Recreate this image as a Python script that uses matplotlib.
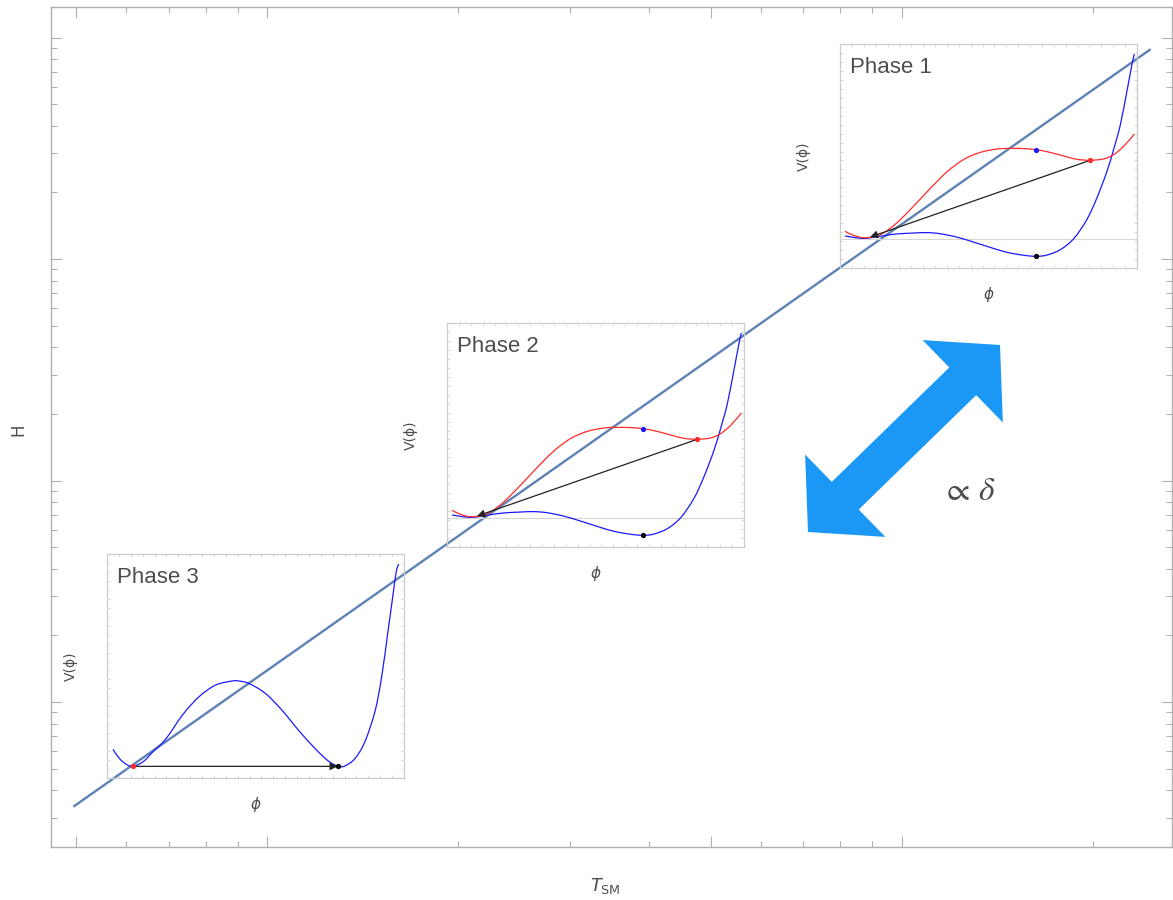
import numpy as np
import matplotlib.pyplot as plt
import matplotlib.patches as mpatches
from matplotlib.path import Path
from matplotlib.ticker import LogLocator, NullFormatter

# main H(T_SM) line, log-log
T_line = [4.95, 247.0]
H_line = [0.337, 887.0]

x_major = [5, 10, 50, 100]
x_minor = [6, 7, 8, 9, 20, 30, 40, 60, 70, 80, 90, 200]

# inset potentials (phases 1 and 2 look the same), phi and V normalised to the inset box
phi_blue_12 = [0.017, 0.045, 0.079, 0.112, 0.146, 0.191, 0.247, 0.292, 0.337, 0.393, 0.449, 0.506,
               0.562, 0.618, 0.661, 0.697, 0.742, 0.787, 0.831, 0.865, 0.899, 0.921, 0.944, 0.966,
               0.983, 0.991]
V_blue_12 = [0.143, 0.137, 0.132, 0.137, 0.144, 0.152, 0.156, 0.158, 0.153, 0.138, 0.116, 0.092,
             0.070, 0.057, 0.052, 0.058, 0.082, 0.131, 0.216, 0.313, 0.432, 0.528, 0.640, 0.789,
             0.908, 0.955]
phi_red_12 = [0.017, 0.045, 0.079, 0.112, 0.146, 0.191, 0.247, 0.303, 0.360, 0.416, 0.472, 0.528,
              0.573, 0.618, 0.661, 0.708, 0.753, 0.798, 0.843, 0.888, 0.921, 0.955, 0.991]
V_red_12 = [0.164, 0.146, 0.135, 0.140, 0.156, 0.201, 0.275, 0.354, 0.429, 0.484, 0.516, 0.531,
            0.534, 0.533, 0.528, 0.516, 0.500, 0.485, 0.481, 0.487, 0.506, 0.543, 0.598]
V_zero_12 = 0.131
tunnel_12 = [(0.843, 0.481), (0.101, 0.138)]   # red dot -> arrow end
blue_dot_12 = (0.661, 0.528)
black_dot_12 = (0.661, 0.052)

phi_blue_3 = [0.020, 0.042, 0.065, 0.087, 0.121, 0.154, 0.199, 0.254, 0.310, 0.366, 0.422, 0.444,
              0.478, 0.533, 0.589, 0.645, 0.701, 0.746, 0.779, 0.801, 0.835, 0.868, 0.902, 0.924,
              0.946, 0.963, 0.974, 0.982]
V_blue_3 = [0.128, 0.087, 0.061, 0.052, 0.072, 0.116, 0.176, 0.281, 0.363, 0.415, 0.433, 0.433,
            0.422, 0.378, 0.303, 0.213, 0.131, 0.075, 0.052, 0.054, 0.087, 0.161, 0.296, 0.445,
            0.654, 0.818, 0.922, 0.955]
tunnel_3 = [(0.089, 0.052), (0.777, 0.052)]

line_col = '#5e81b5'
frame_col = '#b0b0b0'
text_col = '#4d4d4d'
arrow_col = '#1b98f5'

fig = plt.figure(figsize=(11.73, 9), dpi=100)
ax = fig.add_axes([0.0435, 0.0592, 0.9554, 0.9327])
ax.set_xscale('log')
ax.set_yscale('log')
ax.set_xlim(4.565, 266.6)
ax.set_ylim(0.2223, 1371)
ax.plot(T_line, H_line, color=line_col, lw=1.7, solid_capstyle='butt', zorder=1)

ax.set_xticks(x_major)
ax.set_xticks(x_minor, minor=True)
ax.yaxis.set_major_locator(LogLocator(base=10))
ax.yaxis.set_minor_locator(LogLocator(base=10, subs=np.arange(2, 10)))
for a in (ax.xaxis, ax.yaxis):
    a.set_major_formatter(NullFormatter())
    a.set_minor_formatter(NullFormatter())
ax.tick_params(which='both', direction='in', top=True, right=True, color=frame_col, width=0.8)
ax.tick_params(which='major', length=8)
ax.tick_params(which='minor', length=4)
for s in ax.spines.values():
    s.set_color(frame_col)
    s.set_linewidth(1.0)

fig.text(0.0154, 1 - 430 / 900, 'H', rotation=90, ha='center', va='center',
         fontsize=12, color=text_col)
fig.text(605 / 1173, 1 - 886 / 900, r'$T_{\mathrm{SM}}$', ha='center', va='center',
         fontsize=13, color=text_col)


def smooth_curve(px, py, color):
    # Catmull-Rom through the read points, drawn as cubic Bezier segments
    p = np.column_stack([px, py])
    verts = [p[0]]
    codes = [Path.MOVETO]
    for i in range(len(p) - 1):
        a = p[i - 1] if i > 0 else p[i]
        d = p[i + 2] if i + 2 < len(p) else p[i + 1]
        verts += [p[i] + (p[i + 1] - a) / 6, p[i + 1] - (d - p[i]) / 6, p[i + 1]]
        codes += [Path.CURVE4] * 3
    return mpatches.PathPatch(Path(verts, codes), fc='none', ec=color, lw=0.9, zorder=2)


def draw_inset(rect, title, curves, tunnel, dots, zero=None):
    ia = fig.add_axes(rect)
    ia.set_facecolor('none')
    ia.set_xlim(0, 1)
    ia.set_ylim(0, 1)
    if zero is not None:
        ia.axhline(zero, color='#d6d6d6', lw=0.8, zorder=1)
    for px, py, c in curves:
        ia.add_patch(smooth_curve(px, py, c))
    (x0, y0), (x1, y1) = tunnel
    ia.annotate('', xy=(x1, y1), xytext=(x0, y0),
                arrowprops=dict(arrowstyle='-|>,head_length=0.45,head_width=0.22',
                                color='#222222', lw=0.9, shrinkA=0, shrinkB=0), zorder=3)
    for (dx, dy), c in dots:
        ia.plot(dx, dy, 'o', color=c, ms=3.8, mec='none', zorder=4)
    ticks = np.linspace(0, 1, 26)
    ia.set_xticks(ticks)
    ia.set_yticks(ticks)
    ia.set_xticklabels([])
    ia.set_yticklabels([])
    ia.tick_params(direction='in', top=True, right=True, length=2, width=0.5, color='#c8c8c8')
    for s in ia.spines.values():
        s.set_color('#cccccc')
        s.set_linewidth(0.9)
    ia.text(0.034, 0.893, title, transform=ia.transAxes, fontsize=16, color=text_col,
            family='Liberation Sans', ha='left', va='center')
    ia.text(-0.12, 0.5, 'V(\u03d5)', transform=ia.transAxes, rotation=90, fontsize=10,
            color=text_col, ha='center', va='center')
    ia.text(0.5, -0.12, r'$\phi$', transform=ia.transAxes, fontsize=11,
            color=text_col, ha='center', va='center')
    return ia


w, h = 297 / 1173, 224 / 900
curves_12 = [(phi_blue_12, V_blue_12, '#1a1aff'), (phi_red_12, V_red_12, '#ff2a2a')]
dots_12 = [(tunnel_12[0], '#ff2a2a'), (blue_dot_12, '#1a1aff'), (black_dot_12, 'k')]
draw_inset([840 / 1173, 1 - 268 / 900, w, h], 'Phase 1', curves_12, tunnel_12, dots_12,
           zero=V_zero_12)
draw_inset([447 / 1173, 1 - 547 / 900, w, h], 'Phase 2', curves_12, tunnel_12, dots_12,
           zero=V_zero_12)
draw_inset([107 / 1173, 1 - 778 / 900, w, h], 'Phase 3', [(phi_blue_3, V_blue_3, '#1a1aff')],
           tunnel_3, [(tunnel_3[0], '#ff2a2a'), (tunnel_3[1], 'k')])

# big double arrow, drawn in pixel units as one polygon
ov = fig.add_axes([0, 0, 1, 1], zorder=5)
ov.set_xlim(0, 1173)
ov.set_ylim(900, 0)
ov.axis('off')
tail = np.array([808.0, 532.0])
tip = np.array([1000.0, 345.0])
d = (tip - tail) / np.linalg.norm(tip - tail)
n = np.array([-d[1], d[0]])
hl, hw, sw = 52, 57.5, 19.3
outline = [tip, tip - hl * d + hw * n, tip - hl * d + sw * n, tail + hl * d + sw * n,
           tail + hl * d + hw * n, tail, tail + hl * d - hw * n, tail + hl * d - sw * n,
           tip - hl * d - sw * n, tip - hl * d - hw * n]
ov.add_patch(mpatches.Polygon(outline, closed=True, fc=arrow_col, ec='none'))
ov.text(969, 491, r'$\propto\,\delta$', fontsize=24, ha='center', va='center',
        color=text_col, math_fontfamily='stix')

fig.savefig('out.png', dpi=100)
